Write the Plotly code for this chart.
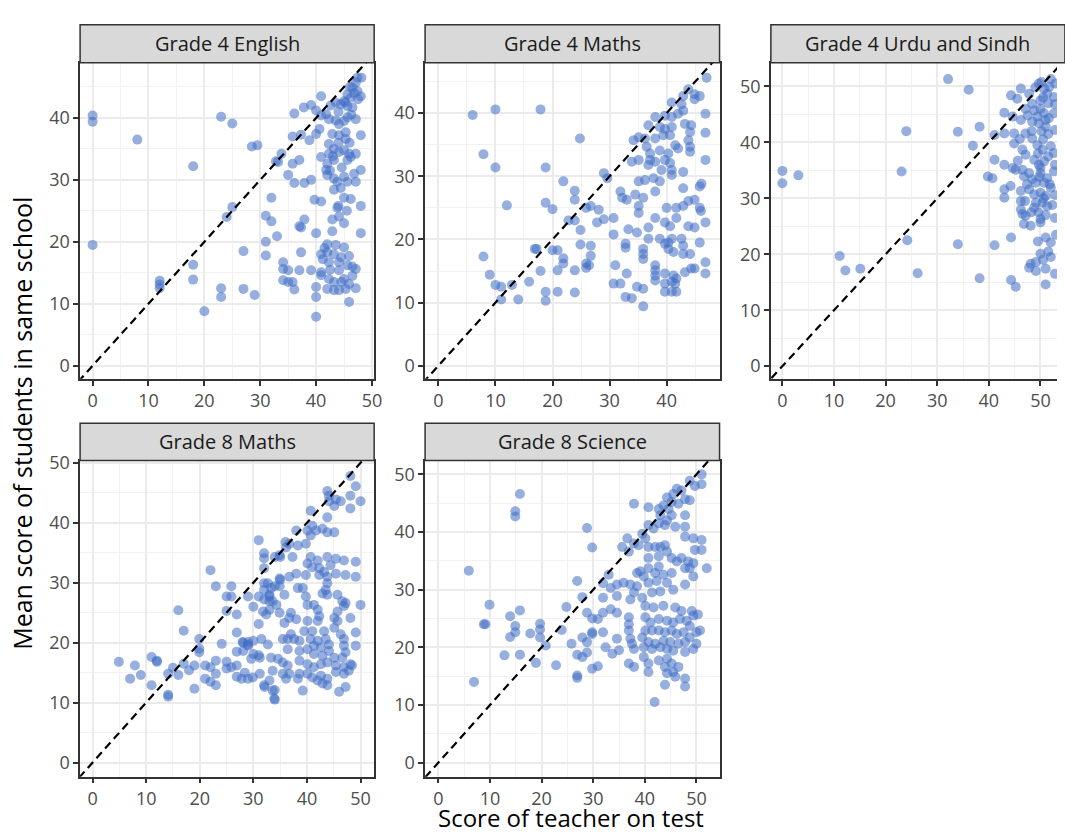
import plotly.graph_objects as go

W, H = 1065, 835

# ---------------- data: (teacher score, mean student score) ----------------
g4_english = [
    (0, 40.4), (0, 39.4), (8, 36.5), (0, 19.5), (23, 40.2), (25, 39.1), (28.5, 35.4), (29.5, 35.6),
    (18, 32.2), (25, 25.6), (24, 24), (32, 27.1), (31, 24.2), (32, 23.3), (33, 20.9), (31, 20.0),
    (31, 17.8), (27, 18.5), (18, 16.3), (18, 13.9), (12, 13.7), (12, 13.1), (12, 12.5), (23, 12.5),
    (23, 11.1), (27, 12.4), (29, 11.4), (20, 8.8), (32.8, 33),
    (47.4, 46.5), (48.1, 46.5), (47.1, 45.7), (46.5, 44.9), (47.4, 44.3), (45.6, 43.8), (48, 43.5),
    (46.2, 43.3), (45, 42.7), (44.4, 42.2), (43.5, 42.5), (42.6, 42.0), (46.5, 41.7), (45.6, 41.9),
    (40.9, 43.5), (36.1, 40.7), (37.8, 41.7), (39.1, 42.1), (40, 41.2), (40.9, 40.4), (41.8, 40.6),
    (42.3, 39.8), (43.5, 39.6), (44.1, 39.0), (45.6, 40.1), (47.1, 39.8), (42.9, 37.4), (44.1, 37.2),
    (45.3, 37.7), (45.3, 36.6), (48, 37.2), (35.8, 37), (37.3, 37.3), (38.8, 36.4), (40, 37.4),
    (40.6, 38.2), (42.3, 35.8), (43.2, 35), (44.1, 34.5), (45, 34.8), (45.9, 34.2), (47.1, 34.2),
    (42.3, 34.2), (40.9, 33.7), (42, 32.6), (43.2, 33.2), (45.6, 33.2), (46.2, 33.7), (33.8, 34.2),
    (33.2, 32.9), (35.8, 32.6), (37, 33.2), (41.8, 31.6), (42, 30.8), (43.2, 30.2), (43.8, 29.7),
    (45, 30.5), (45.6, 29.7), (47.1, 29.7), (48, 31.6), (35, 30.8), (36.1, 29.5), (37.9, 29.5),
    (39.1, 30.0), (43.2, 28.4), (44.4, 28.7), (39.7, 26.8), (40.9, 26.5), (45, 27.1), (46.2, 26.9),
    (48, 25.8), (43.8, 25.5), (44.1, 24.1), (42.9, 23.6), (45, 23.0), (37, 22.5), (37.3, 22.3),
    (37.9, 23.6), (40, 21.4), (42.9, 21.7), (48, 21.4), (42, 19.6), (40.9, 18), (42, 18.3), (43.2, 18),
    (45, 19.1), (45.9, 17.7), (37.3, 18.3), (41.2, 17.2), (42.3, 16.7), (44.1, 16.7), (45.6, 16.2),
    (47.1, 15.6), (44.1, 15.4), (34.1, 16.7), (34.1, 15.6), (35, 15.4), (37, 15.4), (39.1, 15.4),
    (40.9, 15.1), (34.1, 13.8), (35, 13.5), (35.8, 13.5), (36.1, 12.3), (40.9, 14.6), (42.3, 14.0),
    (43.2, 13.5), (45, 14.0), (45.9, 13.2), (47.1, 12.5), (40, 12.7), (42, 12.4), (43.2, 12.2),
    (44.1, 12.2), (45.3, 12.4), (40, 11.1), (45.9, 10.3), (40, 7.9),
    (46, 45), (46.8, 44.0), (45.2, 42.5), (44, 41.0), (46.3, 40.5), (47.5, 43), (45, 39.5), (44, 36),
    (46, 36), (43, 33.8), (44.6, 32), (46.8, 31), (42.5, 31.5), (44, 25.8), (45.5, 25), (41.5, 19),
    (43.5, 19.5), (44.5, 17.5), (42.5, 15.5), (46.5, 16), (46.5, 14.5), (44.5, 13.5),
]

g4_maths = [
    (6, 39.7), (10, 40.6), (17.9, 40.6), (7.9, 33.5), (10, 31.4), (12, 25.4), (24.8, 36), (18.8, 31.4),
    (7.9, 17.3), (9, 14.4), (10, 12.8), (11, 12.5), (12.9, 12.8), (11, 10.5), (14, 10.5), (15.9, 13.3),
    (16.9, 18.5), (17.2, 18.5), (17.9, 15), (18.8, 11.7), (18.8, 10.3), (18.8, 25.8), (20, 24.8),
    (20.9, 18.3), (20, 18.3), (20.9, 15.1), (20.9, 11.7), (21.9, 29.2), (21.9, 17), (21.9, 16.2),
    (23.9, 27.7), (23.9, 26.3), (22.8, 23), (23.9, 23), (24.9, 21.5), (23.9, 15.1), (23.9, 11.6),
    (24.9, 19.2), (25.9, 25), (25.9, 16.2), (25.9, 15.5),
    (47, 45.6), (43.8, 43.8), (44.9, 43), (45.8, 42.7), (44.9, 42.2), (42.9, 42.7), (40.9, 41.7),
    (42.6, 41.4), (42.9, 40.4), (42, 39.9), (46.8, 39.9), (38, 39.4), (39.7, 39.6), (40.9, 39.4),
    (36.8, 38.1), (38.8, 37.8), (39.7, 37.5), (40.9, 37.8), (43.2, 38.3), (44.3, 38.1), (44.1, 37),
    (46.8, 36.9), (34.2, 35.7), (35.1, 36.2), (36.2, 36), (38, 36), (39.4, 36.5), (40.6, 36.5),
    (36.5, 34.7), (37.1, 33.6), (37.1, 32.6), (38.8, 34.1), (40.3, 33.6), (41.5, 34.9), (42, 34.4),
    (43.8, 35.7), (44.1, 34.7), (44.1, 33.9), (33.9, 32.3), (35.1, 32.6), (36.8, 31.8), (38, 32.3),
    (39.7, 32.6), (40.6, 32.1), (40.9, 31), (40.9, 30.2), (39.1, 31), (42.9, 30.7), (46.8, 32.6),
    (29, 30.5), (29.6, 29.7), (35.1, 29.2), (36.2, 29.4), (37.7, 29.7), (38.8, 29.2), (38, 27.6),
    (42.9, 28.1), (46.1, 28.8), (45.8, 28.4), (31.9, 27.6), (32.2, 26.6), (33, 26.3), (34.5, 27.1),
    (35.9, 26.6), (35.1, 25.3), (35.1, 24.2), (40, 25), (41.7, 25), (42.9, 25.3), (44.9, 26.3),
    (45.8, 25), (46, 24.5), (43.8, 26.1), (28.1, 24.7), (26.7, 25.3), (29, 23.2), (30.7, 23.4),
    (33.3, 21.6), (27.8, 22.7), (38, 23.4), (39.7, 22.7), (40.6, 22.1), (41.7, 23.4), (43.8, 22.1),
    (44.9, 21.9), (46.8, 22.7), (36.8, 21.9), (34.8, 21.1), (30.7, 20.8), (36.8, 20.1), (38.8, 20.1),
    (40.3, 19.5), (40.9, 20.1), (42.6, 20.1), (45.8, 19.5), (32.8, 19.3), (32.8, 18.7), (35.9, 18.5),
    (35.9, 17.7), (35.9, 16.9), (39.7, 19.3), (40.3, 18.5), (41.2, 18), (42.9, 19), (42.9, 17.7),
    (44.1, 17.7), (26.7, 19), (26.7, 17.4), (26.4, 15.9), (31, 15.9), (33, 14.6), (38, 15.9),
    (38, 15.1), (38, 14.3), (38, 13.5), (39.7, 14.6), (41.2, 14.3), (41.7, 13.8), (40.9, 13.3),
    (39.7, 13), (41.5, 13), (43.2, 14.8), (44.3, 15.4), (44.9, 15.4), (46.8, 16.4), (46.8, 14.6),
    (30.7, 13), (31.9, 13), (34.8, 12.5), (35.9, 12.2), (39.7, 11.7), (40.9, 11.7), (41.7, 11.7),
    (32.8, 10.9), (33.9, 10.7), (35.9, 9.4),
]

g4_urdu_sindh = [
    (0, 34.9), (0, 32.7), (3.1, 34.1), (11.1, 19.7), (12.2, 17.1), (15.1, 17.4), (23.1, 34.8), (24, 42),
    (24.2, 22.5), (26.2, 16.6),
    (32.1, 51.3), (36.1, 49.4), (46.2, 49.6), (44.3, 48.4), (45.5, 47.8), (47.8, 48.7), (49.7, 50.5),
    (50.7, 49.6), (52, 51.3), (52.9, 50.5), (51.3, 48.7), (52.6, 48.1), (50, 47.5), (48.4, 46.9),
    (47.1, 46), (43, 45.3), (44.6, 44.6), (46.2, 44), (48.8, 45.7), (49.4, 44.6), (50.7, 45.2),
    (51.6, 44.3), (52.6, 45.2), (48.4, 43.7), (49.7, 43.4), (51, 42.8), (34, 41.9), (38.2, 42.8),
    (43, 41.6), (41.1, 41.3), (44.9, 41.6), (47.1, 41.6), (36.9, 39.4), (41.1, 36.9), (43, 36),
    (44.6, 35.4), (45.2, 35.1), (44.9, 39.8), (46.5, 38.7), (47.1, 37.8), (48.4, 40.7), (49.4, 39.5),
    (50.4, 38.7), (52, 39.3), (52.6, 38.1), (48.8, 36.9), (50.7, 36.6), (49.7, 36), (39.8, 33.9),
    (40.7, 33.6), (46.5, 35.1), (46.8, 33.9), (47.8, 34.5), (48.4, 33.4), (50, 34.5), (51.3, 33.6),
    (52.6, 34.8), (49.1, 32.8), (50.7, 32.8), (43, 31.6), (43, 30.1), (46.2, 31.3), (46.2, 29.5),
    (47.8, 31.6), (48.8, 30.7), (50, 31), (51, 30.4), (52, 31.9), (49.1, 29.2), (50.4, 29.2),
    (51.3, 28.6), (48.8, 28.3), (46.2, 28), (46.5, 27.2), (47.1, 26.9), (46.8, 25.4), (48.1, 25.1),
    (50, 26.3), (50, 25.7), (44.3, 23), (51, 23), (52, 22.1), (34, 21.8), (41.1, 21.6), (50, 20.1),
    (48.1, 18.3), (49.1, 18.6), (49.1, 17), (51, 17.4), (52, 19.5), (38.2, 15.7), (44.3, 15.4),
    (45.2, 14.2), (51, 14.6),
    (50.5, 48), (51.5, 47), (50, 46), (51, 44), (50.2, 42), (51.5, 41.5), (50.5, 40.5), (49.5, 38),
    (51.5, 37.5), (50, 35.5), (49.8, 33.8), (51.8, 32.5), (50.6, 30), (49.6, 27.5), (51, 27),
    (52.3, 28.8), (48.3, 42), (47.5, 44.8), (49, 49.8), (50.2, 50.8), (51.7, 49.9), (52.8, 46.8),
    (52.8, 42.2), (52.8, 36), (52.8, 30.6), (52.8, 26.5), (53, 23.5), (52.8, 16.5), (51.5, 20.5),
    (49.5, 22.3), (47.8, 17.6), (50.5, 19), (48.2, 27.5), (47, 29.5), (47.4, 32.5), (45.6, 36.7),
    (44.2, 32.2), (46, 40.6),
]

g8_maths = [
    (4.9, 16.8), (7, 14), (7.9, 16.2), (9, 14.6), (11, 17.6), (12, 17), (12, 16.8), (11, 12.9),
    (14.1, 14.8), (14.1, 11.3), (14.1, 11), (15, 15.8), (16, 25.4), (16, 14.6), (17, 22), (17, 16.5),
    (18, 15.4), (19, 12.3), (19, 16.2), (19.9, 20.6), (19.9, 19), (19.9, 18.4), (21, 16.2), (21, 14),
    (22, 32.1), (22, 15.9), (22, 13.5), (23, 29.4), (23, 17), (23, 14.8), (23, 12.9), (24.1, 19.8),
    (25, 27.7), (25, 25.3), (25.9, 29.4), (25.9, 27.7), (25, 16.8), (25, 15.7), (25.9, 15.9),
    (26.9, 24.7), (26.9, 21.7), (26.9, 18.5), (26.9, 16.2), (26.9, 14.3),
    (48.1, 47.8), (49.1, 46.1), (50, 43.6), (48.1, 44.5), (48.1, 42.4), (43.8, 45.3), (44.1, 44.5),
    (45.4, 43.9), (46.3, 43.6), (44.1, 43.6), (45.1, 42.8), (43.8, 40.9), (40.7, 42), (41, 39.5),
    (40.1, 38.7), (41.7, 38.7), (42.9, 39), (43.8, 38.4), (45.1, 38.4), (38, 38.7), (36.7, 36.5),
    (38.3, 36.2), (39.8, 36.5), (40.7, 37.9), (36.1, 35.9), (34.9, 34.6), (37.3, 34.3), (40.7, 34.3),
    (42, 33.7), (43.8, 34.3), (45.4, 34), (44.4, 32.9), (40.1, 33.2), (41, 32.6), (42.3, 32.4),
    (43.2, 31.8), (39.8, 31.3), (42.3, 31.3), (43.8, 31), (45.4, 31.5), (47.2, 31.3), (49.1, 31),
    (49.1, 33.5), (46.9, 33.7), (43.8, 29.9), (43.5, 28.8), (43.8, 28), (42.9, 28.2), (36.7, 31),
    (38, 31.5), (34.9, 30.7), (32.7, 29.9), (33.3, 29.1), (34.9, 29.4), (38.3, 29.1), (39.2, 29.1),
    (35.8, 28), (33, 28), (33.6, 26.9), (34.3, 26.3), (39.8, 27.7), (40.1, 26.3), (41.3, 26.3),
    (42, 25.5), (45.7, 28), (46.6, 26.9), (46.9, 26.1), (45.7, 25.2), (45.1, 24.1), (45.7, 23.6),
    (47.2, 26.6), (50, 26.3), (34.9, 25), (37, 25), (38, 23.9), (40.1, 23.6), (36.7, 24.1),
    (35.8, 23.3), (33, 25.5), (31.8, 25.2), (32.4, 24.7), (48.1, 24.1), (42.3, 24.4), (42, 23.6),
    (39.5, 21.9), (41, 21.9), (43.2, 21.9), (45.1, 22.5), (46.3, 21.4), (46.9, 20.6), (49.1, 21.7),
    (46.9, 19.5), (49.1, 19.5), (37, 21.4), (35.5, 20.6), (36.4, 20.6), (37.6, 20.6), (38.6, 20.3),
    (40.7, 20.6), (42, 20.3), (43.5, 20.6), (44.1, 19.7), (42.6, 19.2), (41.3, 19.5), (28.1, 20),
    (29, 19.7), (28.1, 18.6), (31.5, 20.6), (32.7, 19.7), (36.4, 18.9), (38.6, 18.6), (40.1, 18.9),
    (41.3, 18.1), (42.9, 17.8), (44.1, 18.6), (45.1, 17.5), (46.6, 17.5), (47.2, 18.4), (48.1, 16.4),
    (29.6, 17.3), (31.2, 17.5), (33.3, 17.5), (34.6, 17.3), (35.5, 16.7), (36.4, 16.2), (38.6, 17),
    (40.1, 16.4), (41.3, 15.9), (42.6, 16.4), (43.8, 16.7), (45.4, 16.2), (46.9, 15.9), (48.4, 16.2),
    (28.4, 15), (29.9, 14.2), (31.2, 14.8), (33.6, 15.3), (35.5, 14.8), (36.7, 14.8), (38.6, 14.8),
    (40.1, 14.8), (41, 14.2), (42.6, 14.5), (43.8, 14), (45.4, 15.1), (46.9, 14.8), (47.8, 15.3),
    (27.8, 14), (29, 14), (33, 13.7), (36.1, 14), (38.3, 14), (42, 13.7), (42.9, 13.2), (43.8, 12.9),
    (47.2, 12.6), (32.1, 12.6), (33.6, 12), (33.9, 10.7), (39.2, 12), (46, 11.8),
    (31, 37.1), (32, 34.9), (32, 34.1), (32, 32.4), (32, 29.9), (32, 28.8), (32, 27.2), (33, 27.7),
    (33, 26.9), (34, 29.4), (34, 34.3), (35, 34.3), (35, 30.5), (36, 36.8), (29, 27.7), (30, 26),
    (31, 27.7), (31, 23.1), (28, 20.1), (29, 20.1), (29, 19.5), (30, 20.3), (30, 18.1), (31, 17.9),
    (32, 12.9), (34, 12.1), (34, 10.5),
]

g8_science = [
    (5.9, 33.3), (6.9, 14), (8.8, 24), (9.1, 24), (9.9, 27.4), (12.8, 18.6), (13.9, 25.4), (13.9, 21.8),
    (14.9, 43.6), (14.9, 42.7), (15.8, 46.6), (14.9, 23.7), (14.9, 22.6), (15.8, 26.4), (15.8, 18.7),
    (17.8, 22.4), (18.9, 17.3), (19.7, 24.1), (19.7, 23.1), (19.7, 21.7), (20.8, 20.3), (22.8, 16.9),
    (23.9, 23), (24.8, 27), (25.8, 20.6), (26.9, 31.5), (26.9, 18.7), (26.9, 15.1), (26.9, 14.7),
    (27.9, 28.7), (27.9, 21.7), (27.9, 18.3), (28.8, 40.7), (28.8, 26), (28.8, 20.9), (28.8, 19.1),
    (29.8, 37.3), (29.8, 25), (29.8, 22.6), (29.8, 22.3), (29.8, 16.3), (30.9, 24.9), (30.9, 16.7),
    (31.9, 31.1), (31.9, 28.6), (31.9, 26), (31.9, 22.6),
    (51, 50), (49.7, 48), (51, 48.3), (48.7, 48.9), (47.1, 47.2), (47.8, 45.7), (48.7, 45.5),
    (46.5, 44.9), (45.2, 45.2), (45.5, 46.6), (44.3, 46), (46.2, 47.5), (37.9, 44.9), (40.7, 44.3),
    (42.7, 44), (43.6, 44.6), (44.6, 44), (43, 42.9), (44.3, 42), (43.9, 41.2), (42.7, 41.5),
    (45.2, 42.9), (47.8, 42.9), (45.9, 40.9), (47.8, 40.9), (40.7, 41.2), (41.7, 40.6), (39.5, 39.7),
    (40.1, 38.9), (40.7, 37.4), (42, 37.4), (43, 37.4), (43.9, 37.7), (47.8, 39.2), (49.4, 38.9),
    (51, 38.6), (49.7, 36.9), (51, 36.9), (52, 33.7), (36.6, 38.9), (35.6, 37.4), (37.9, 38),
    (36.9, 36.6), (38.8, 37.7), (44.3, 36.6), (45.2, 35.5), (46.2, 34.9), (47.1, 35.5), (48.4, 34.9),
    (49.4, 34.6), (40.7, 35.5), (42.7, 35.8), (42.7, 34), (40.7, 33.7), (39.1, 33.2), (38.5, 32.9),
    (39.8, 32.3), (42, 32.9), (43.6, 32.6), (47.8, 33.7), (48.7, 33.7), (45.2, 32.9), (47.8, 30.9),
    (49.4, 32.3), (34.6, 30.9), (35.9, 31.2), (37.2, 30.9), (38.5, 30.6), (40.7, 31.2), (42.3, 31.5),
    (44.3, 31.2), (45.5, 30), (43, 29.7), (41.4, 29.5), (33, 32.6), (33.4, 30.3), (34.6, 28.9),
    (37.2, 28.3), (37.9, 29.5), (39.5, 28.6), (40.1, 27.2), (41.7, 26.9), (43.6, 27.2), (45.9, 26.9),
    (47.1, 26.3), (49.1, 26.3), (49.4, 25.5), (50.3, 25.7), (50.7, 22.9), (40.1, 25.2), (41.1, 24.3),
    (42.7, 24.9), (44.3, 24.6), (45.5, 24.3), (46.8, 24.9), (48.1, 24.6), (48.7, 23.7), (33.4, 26.6),
    (34.6, 26), (36.9, 25.2), (36.9, 24), (36.9, 22.9), (40.1, 22.9), (41.4, 22.9), (42.7, 22.9),
    (43.9, 22.6), (45.2, 22.9), (46.2, 22.3), (47.5, 22.6), (48.7, 21.7), (50, 22.6), (39.5, 21.7),
    (40.7, 20.9), (42, 20.6), (43.6, 21.1), (44.9, 20.9), (46.5, 20.6), (47.8, 20.9), (34.6, 21.5),
    (37.2, 21.5), (37.5, 20.6), (39.8, 20), (41.4, 19.7), (43, 20), (44.3, 19.7), (45.5, 19.4),
    (47.8, 19.2), (49.4, 19.7), (50, 20.6), (32.4, 20), (33.7, 18.9), (35, 19.5), (37.9, 19.7),
    (36.9, 17.2), (37.9, 16.6), (39.8, 18.3), (40.7, 17.2), (42.7, 17.7), (44.3, 18), (45.2, 17.2),
    (46.5, 16.6), (43.9, 16.6), (45.5, 15.7), (40.7, 15.7), (44.3, 15.5), (45.9, 14.9), (47.8, 14.6),
    (47.8, 13.2), (43.9, 13.5), (41.9, 10.5),
]

panel_titles = ["Grade 4 English", "Grade 4 Maths", "Grade 4 Urdu and Sindh",
                "Grade 8 Maths", "Grade 8 Science"]
panel_data = [g4_english, g4_maths, g4_urdu_sindh, g8_maths, g8_science]

x_title = "Score of teacher on test"
y_title = "Mean score of students in same school"

# ---------------- layout geometry (pixels) ----------------
col_px = [(80.7, 377.0), (428.3, 725.0), (776.7, 1073.0)]
row_px = [(53.3, 373.3), (456.0, 776.0)]
strip_px = [(15.0, 53.3), (418.3, 456.0)]
cells = [(0, 0), (0, 1), (0, 2), (1, 0), (1, 1)]
x_ranges = [(-2.24, 50.39), (-2.33, 49.27), (-2.23, 53.2), (-2.33, 52.54), (-2.58, 54.48)]
y_ranges = [(-2.12, 48.92), (-2.08, 48.0), (-2.26, 54.24), (-2.36, 50.38), (-2.45, 52.4)]

POINT = "rgba(64,110,196,0.55)"
DARK = "#333333"
FONT = "Open Sans"

fig = go.Figure()
shapes, annotations = [], []

for i, (title, data) in enumerate(zip(panel_titles, panel_data)):
    r, c = cells[i]
    n = "" if i == 0 else str(i + 1)
    xs = [p[0] for p in data]
    ys = [p[1] for p in data]
    fig.add_trace(go.Scatter(
        x=xs, y=ys, mode="markers", xaxis="x" + n, yaxis="y" + n,
        marker=dict(size=10, color=POINT, line=dict(width=0)),
        hoverinfo="skip", showlegend=False))
    lo = min(x_ranges[i][0], y_ranges[i][0]) - 5
    hi = max(x_ranges[i][1], y_ranges[i][1]) + 5
    fig.add_trace(go.Scatter(
        x=[lo, hi], y=[lo, hi], mode="lines", xaxis="x" + n, yaxis="y" + n,
        line=dict(color="black", width=2.2, dash="8px,5px"),
        hoverinfo="skip", showlegend=False))

    x0, x1 = col_px[c]
    y0, y1 = row_px[r]
    dom_x = [x0 / W, min(x1 / W, 1.0)]
    dom_y = [1 - y1 / H, 1 - y0 / H]
    axis_common = dict(
        showgrid=True, gridcolor="#EBEBEB", gridwidth=1.5,
        minor=dict(dtick=5, tick0=0, showgrid=True, gridcolor="#F2F2F2", gridwidth=0.8),
        zeroline=False, showline=True, linecolor=DARK, linewidth=1.5,
        ticks="outside", ticklen=5, tickwidth=1.5, tickcolor=DARK,
        tickfont=dict(family=FONT, size=18, color="#4D4D4D"),
        dtick=10, tick0=0, fixedrange=True)
    fig.layout["xaxis" + n] = dict(axis_common, domain=dom_x, anchor="y" + n,
                                   range=list(x_ranges[i]), mirror=True)
    fig.layout["yaxis" + n] = dict(axis_common, domain=dom_y, anchor="x" + n,
                                   range=list(y_ranges[i]), mirror=(c != 2))

    s0, s1 = strip_px[r]
    shapes.append(dict(type="rect", xref="paper", yref="paper",
                       x0=x0 / W, x1=x1 / W, y0=1 - s1 / H, y1=1 - s0 / H,
                       fillcolor="#D9D9D9", line=dict(color=DARK, width=1.5), layer="above"))
    annotations.append(dict(text=title, xref="paper", yref="paper",
                            x=(x0 + x1) / 2 / W, y=1 - (s0 + s1) / 2 / H,
                            xanchor="center", yanchor="middle", showarrow=False,
                            font=dict(family=FONT, size=20, color="#1A1A1A")))

annotations.append(dict(text=x_title, xref="paper", yref="paper", x=575 / W, y=0.0,
                        xanchor="center", yanchor="bottom", showarrow=False, borderpad=0,
                        font=dict(family=FONT, size=24, color="black")))
annotations.append(dict(text=y_title, xref="paper", yref="paper", x=22 / W, y=1 - 418 / H,
                        xanchor="center", yanchor="middle", showarrow=False, textangle=-90,
                        font=dict(family=FONT, size=25, color="black")))

fig.update_layout(width=W, height=H, margin=dict(l=0, r=0, t=0, b=0),
                  paper_bgcolor="white", plot_bgcolor="white",
                  shapes=shapes, annotations=annotations, showlegend=False,
                  font=dict(family=FONT))

fig.write_html("out.html")
